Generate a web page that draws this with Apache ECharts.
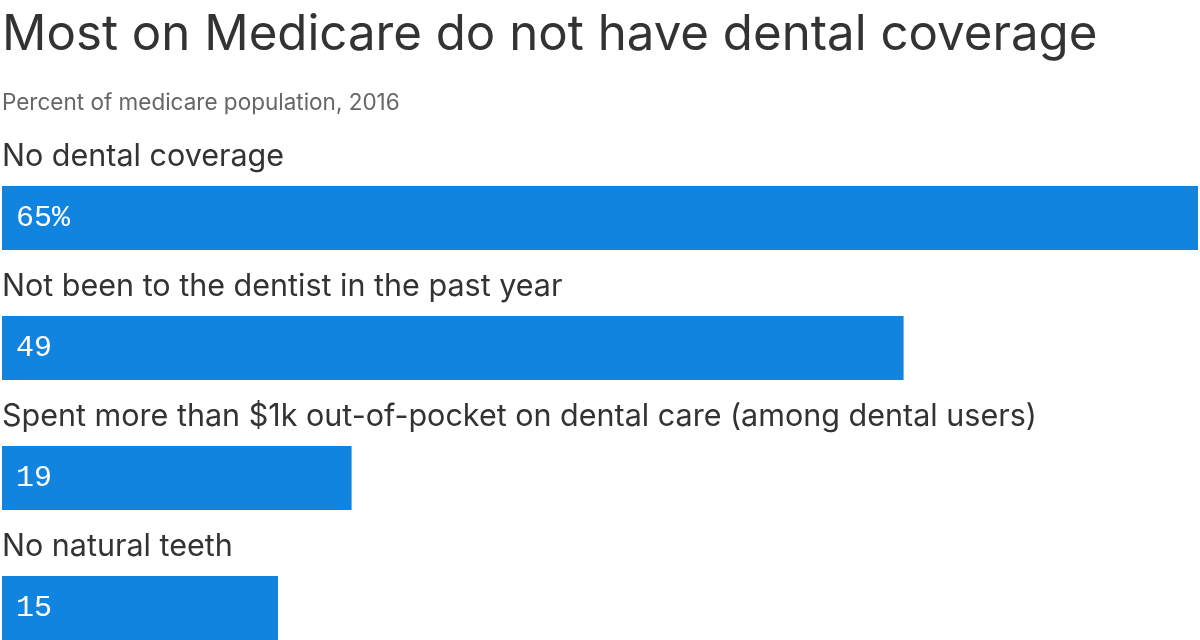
<!DOCTYPE html>
<html>
<head>
<meta charset="utf-8">
<script src="https://cdn.jsdelivr.net/npm/echarts@6/dist/echarts.min.js"></script>
<style>
html, body { margin: 0; padding: 0; background: #fff; }
#chart_panel { width: 1200px; height: 640px; }
</style>
</head>
<body>
<div id="chart_panel"></div>
<script>
// data
var categories = ['No dental coverage', 'Not been to the dentist in the past year',
	'Spent more than $1k out-of-pocket on dental care (among dental users)', 'No natural teeth'];
var values = [65, 49, 19, 15];
var valueLabels = ['65%', '49', '19', '15'];

var myChart = echarts.init(document.getElementById('chart_panel'));

var option = {
	animation: false,
	title: {
		text: 'Most on Medicare do not have dental coverage',
		subtext: 'Percent of medicare population, 2016',
		left: -3,
		top: 6,
		itemGap: 32,
		textStyle: { fontFamily: 'Inter', fontSize: 49.2, fontWeight: 'normal', color: '#333333' },
		subtextStyle: { fontFamily: 'Inter', fontSize: 22.5, color: '#666666' }
	},
	// slots are 130px tall, the last one runs past the bottom edge
	grid: { left: 2, right: 2, top: 153, height: 520, containLabel: false, outerBoundsMode: 'none' },
	xAxis: {
		type: 'value', min: 0, max: 65,
		show: false
	},
	yAxis: {
		type: 'category',
		data: categories,
		inverse: true,
		axisLine: { show: false },
		axisTick: { show: false },
		splitLine: { show: false },
		axisLabel: {
			inside: true,
			margin: 0,
			align: 'left',
			verticalAlign: 'bottom',
			lineHeight: 34,
			padding: [0, 0, 44, 0],
			fontFamily: 'Inter',
			fontSize: 30.5,
			color: '#333333'
		}
	},
	series: [{
		type: 'bar',
		data: values,
		barWidth: 64,
		itemStyle: { color: '#1184e0' },
		label: {
			show: true,
			position: 'insideLeft',
			distance: 14,
			fontFamily: 'Liberation Mono',
			fontSize: 30,
			color: '#ffffff',
			formatter: function (p) { return valueLabels[p.dataIndex]; }
		}
	}]
};
myChart.setOption(option);
window.onresize = myChart.resize;
</script>
</body>
</html>
